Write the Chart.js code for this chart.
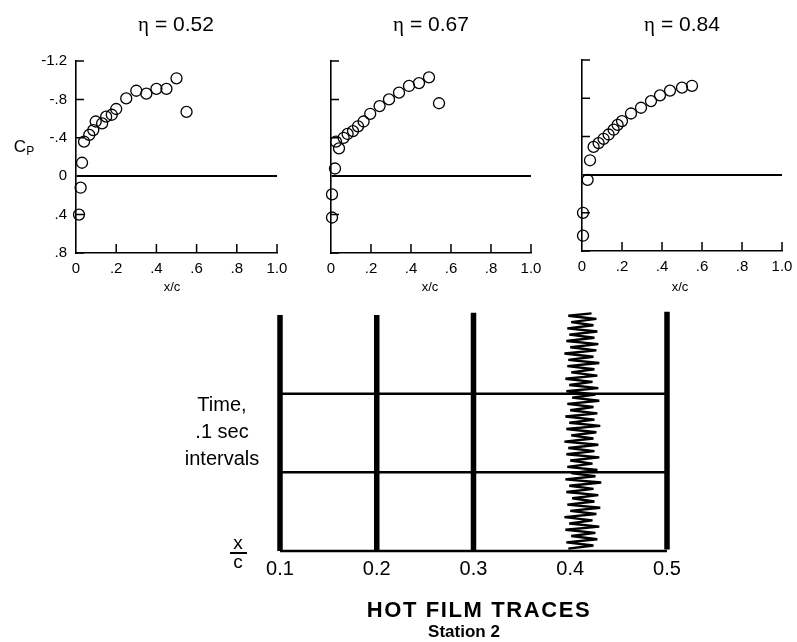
<!DOCTYPE html>
<html>
<head>
<meta charset="utf-8">
<script src="https://cdn.jsdelivr.net/npm/chart.js@4"></script>
<style>
  body { margin: 0; background: #fff; font-family: "Liberation Sans", Arial, sans-serif; color: #000; }
  #wrap { position: relative; width: 797px; height: 642px; overflow: hidden; }
  canvas { position: absolute; left: 0; top: 0; }
  .t { position: absolute; white-space: nowrap; transform: translate(-50%, -50%); }
</style>
</head>
<body>
<div id="wrap">
  <canvas id="cp52" width="797" height="642"></canvas>
  <canvas id="cp67" width="797" height="642"></canvas>
  <canvas id="cp84" width="797" height="642"></canvas>
  <canvas id="film" width="797" height="642"></canvas>

  <div class="t" style="left:176px;top:24px;font-size:21px"><span style="font-family:'Liberation Serif',serif">&eta;</span> = 0.52</div>
  <div class="t" style="left:431px;top:24px;font-size:21px"><span style="font-family:'Liberation Serif',serif">&eta;</span> = 0.67</div>
  <div class="t" style="left:682px;top:24px;font-size:21px"><span style="font-family:'Liberation Serif',serif">&eta;</span> = 0.84</div>

  <div class="t" style="left:24px;top:147px;font-size:17px">C<span style="font-size:12px;position:relative;top:3px">P</span></div>
  <div class="t" style="left:172px;top:286px;font-size:13px">x/c</div>
  <div class="t" style="left:430px;top:286px;font-size:13px">x/c</div>
  <div class="t" style="left:680px;top:286px;font-size:13px">x/c</div>

  <div class="t" style="left:222px;top:431px;font-size:20px;line-height:27px;text-align:center">Time,<br>.1 sec<br>intervals</div>
  <div class="t" style="left:238px;top:543px;font-size:19px">x</div>
  <div style="position:absolute;left:230px;top:552px;width:17px;height:2px;background:#000"></div>
  <div class="t" style="left:238px;top:562px;font-size:19px">c</div>

  <div class="t" style="left:479px;top:610px;font-size:22px;font-weight:bold;letter-spacing:1.6px">HOT FILM TRACES</div>
  <div class="t" style="left:464px;top:632px;font-size:17px;font-weight:bold">Station 2</div>
</div>
<script>
// Pressure coefficient distributions, three spanwise stations
const xTickValues = [0.2, 0.4, 0.6, 0.8, 1.0];
const cpTickValues = [-1.2, -0.8, -0.4, 0.4, 0.8];

const eta052X  = [0.015, 0.023, 0.03, 0.04, 0.066, 0.086, 0.098, 0.13, 0.15, 0.178, 0.20, 0.25, 0.30, 0.35, 0.40, 0.45, 0.50, 0.55];
const eta052Cp = [0.40, 0.12, -0.14, -0.36, -0.43, -0.48, -0.57, -0.55, -0.62, -0.64, -0.70, -0.81, -0.89, -0.86, -0.91, -0.91, -1.02, -0.67];

const eta067X  = [0.005, 0.005, 0.02, 0.025, 0.04, 0.063, 0.083, 0.11, 0.135, 0.163, 0.196, 0.243, 0.29, 0.34, 0.39, 0.44, 0.49, 0.54];
const eta067Cp = [0.43, 0.19, -0.08, -0.36, -0.29, -0.40, -0.44, -0.47, -0.52, -0.57, -0.65, -0.73, -0.80, -0.87, -0.94, -0.97, -1.03, -0.76];

const eta084X  = [0.005, 0.005, 0.028, 0.04, 0.058, 0.083, 0.108, 0.133, 0.158, 0.178, 0.20, 0.245, 0.295, 0.345, 0.39, 0.44, 0.50, 0.55];
const eta084Cp = [0.64, 0.40, 0.055, -0.15, -0.29, -0.33, -0.375, -0.42, -0.47, -0.52, -0.56, -0.64, -0.70, -0.77, -0.83, -0.88, -0.91, -0.93];

// Hot film traces (x/c station, time in 0.1 s intervals)
const filmTicks = [0.1, 0.2, 0.3, 0.4, 0.5];
const steadyTraces = [0.1, 0.2, 0.3, 0.5];
const steadyBottom = [0.0, 0.0, 0.0, 0.02];
const steadyTop = [3.0, 3.0, 3.03, 3.04];
const timeMarks = [0, 1, 2];

const noisyTimes = [0.03, 0.07, 0.11, 0.15, 0.19, 0.23, 0.27, 0.31, 0.35, 0.39, 0.43, 0.47, 0.51, 0.55, 0.59, 0.63,
  0.67, 0.71, 0.75, 0.79, 0.83, 0.87, 0.91, 0.95, 0.99, 1.03, 1.07, 1.11, 1.15, 1.19, 1.23, 1.27, 1.31, 1.35, 1.39,
  1.43, 1.47, 1.51, 1.55, 1.59, 1.63, 1.67, 1.71, 1.75, 1.79, 1.83, 1.87, 1.91, 1.95, 1.99, 2.03, 2.07, 2.11, 2.15,
  2.19, 2.23, 2.27, 2.31, 2.35, 2.39, 2.43, 2.47, 2.51, 2.55, 2.59, 2.63, 2.67, 2.71, 2.75, 2.79, 2.83, 2.87, 2.91,
  2.95, 2.99, 3.02];
const noisyX = [0.398, 0.424, 0.396, 0.428, 0.401, 0.426, 0.395, 0.430, 0.399, 0.423, 0.394, 0.427, 0.400, 0.431, 0.397, 0.425,
  0.402, 0.429, 0.396, 0.424, 0.399, 0.432, 0.395, 0.426, 0.401, 0.428, 0.397, 0.423, 0.400, 0.430, 0.396, 0.425, 0.398, 0.429, 0.394,
  0.424, 0.401, 0.427, 0.396, 0.431, 0.399, 0.425, 0.395, 0.428, 0.400, 0.424, 0.397, 0.430, 0.402, 0.426, 0.396, 0.429, 0.399, 0.423,
  0.395, 0.428, 0.401, 0.425, 0.397, 0.430, 0.398, 0.424, 0.394, 0.427, 0.400, 0.429, 0.396, 0.425, 0.399, 0.428, 0.397, 0.424, 0.401,
  0.427, 0.398, 0.422];

const W = 797, H = 642;

Chart.defaults.font.family = '"Liberation Sans", Arial, sans-serif';
Chart.defaults.color = '#000';

function fmt(v) {
  if (Math.abs(v) < 1e-6) return '0';
  const s = Math.abs(v).toFixed(1);
  return (v < 0 ? '-' : '') + (s.startsWith('0') ? s.slice(1) : s);
}

// small tick marks pointing into the plot
const inwardTicks = {
  id: 'inwardTicks',
  afterDraw(chart, args, opts) {
    const { ctx, chartArea: a, scales: { x, y } } = chart;
    ctx.save();
    ctx.strokeStyle = '#000';
    ctx.lineWidth = 1.5;
    ctx.beginPath();
    opts.x.forEach(v => {
      const px = x.getPixelForValue(v);
      ctx.moveTo(px, a.bottom);
      ctx.lineTo(px, a.bottom - 9);
    });
    opts.y.forEach(v => {
      const py = y.getPixelForValue(v);
      ctx.moveTo(a.left, py);
      ctx.lineTo(a.left + 8, py);
    });
    ctx.stroke();
    ctx.restore();
  }
};

function cpChart(id, xs, cps, area, showLabels) {
  const yW = 40, xH = 30;
  new Chart(document.getElementById(id), {
    type: 'scatter',
    data: {
      datasets: [{
        data: xs.map((x, i) => ({ x: x, y: cps[i] })),
        pointRadius: 5.5,
        pointBorderWidth: 1.3,
        borderColor: '#000',
        backgroundColor: 'rgba(0,0,0,0)',
        clip: false
      }]
    },
    options: {
      responsive: false,
      animation: false,
      events: [],
      layout: { padding: { left: area.left - yW, top: area.top, right: W - area.right, bottom: H - area.bottom - xH } },
      plugins: { legend: { display: false }, tooltip: { enabled: false }, inwardTicks: { x: xTickValues, y: cpTickValues } },
      scales: {
        x: {
          type: 'linear', min: 0, max: 1,
          afterFit: s => { s.height = xH; s.paddingLeft = 0; s.paddingRight = 0; },
          grid: { display: false, drawTicks: false },
          border: { display: true, color: '#000', width: 1.6 },
          ticks: { stepSize: 0.2, padding: 7, font: { size: 15 }, callback: v => fmt(v) }
        },
        y: {
          min: -1.2, max: 0.8, reverse: true,
          afterFit: s => { s.width = yW; s.paddingTop = 0; s.paddingBottom = 0; },
          grid: { drawTicks: false, lineWidth: 2, color: c => (c.tick && Math.abs(c.tick.value) < 1e-6) ? '#000' : 'rgba(0,0,0,0)' },
          border: { display: true, color: '#000', width: 1.6 },
          ticks: { display: showLabels, stepSize: 0.4, padding: 9, font: { size: 15 }, callback: v => fmt(v) }
        }
      }
    },
    plugins: [inwardTicks]
  });
}

cpChart('cp52', eta052X, eta052Cp, { left: 76, right: 277, top: 61, bottom: 253 }, true);
cpChart('cp67', eta067X, eta067Cp, { left: 331, right: 531, top: 61, bottom: 253 }, false);
cpChart('cp84', eta084X, eta084Cp, { left: 582, right: 782, top: 60, bottom: 251 }, false);

// hot film traces chart
function line(points, width) {
  return { data: points, showLine: true, borderColor: '#000', borderWidth: width, pointRadius: 0, clip: false, borderJoinStyle: 'bevel' };
}

const filmSets = [];
steadyTraces.forEach((x, i) => filmSets.push(line([{ x: x, y: steadyBottom[i] }, { x: x, y: steadyTop[i] }], 5.5)));
filmSets.push(line(noisyTimes.map((t, i) => ({ x: noisyX[i], y: t })), 2.4));
timeMarks.forEach(t => filmSets.push(line([{ x: filmTicks[0], y: t }, { x: filmTicks[filmTicks.length - 1], y: t }], 2.5)));

const filmArea = { left: 280, right: 667, top: 315, bottom: 551 };
new Chart(document.getElementById('film'), {
  type: 'scatter',
  data: { datasets: filmSets },
  options: {
    responsive: false,
    animation: false,
    events: [],
    layout: { padding: { left: filmArea.left, top: filmArea.top, right: W - filmArea.right, bottom: H - filmArea.bottom - 40 } },
    plugins: { legend: { display: false }, tooltip: { enabled: false } },
    scales: {
      x: {
        type: 'linear', min: 0.1, max: 0.5,
        afterFit: s => { s.height = 40; s.paddingLeft = 0; s.paddingRight = 0; },
        grid: { display: false, drawTicks: false },
        border: { display: false },
        ticks: { stepSize: 0.1, padding: 6, font: { size: 20 }, callback: v => v.toFixed(1) }
      },
      y: { display: false, min: 0, max: 3 }
    }
  }
});
</script>
</body>
</html>
